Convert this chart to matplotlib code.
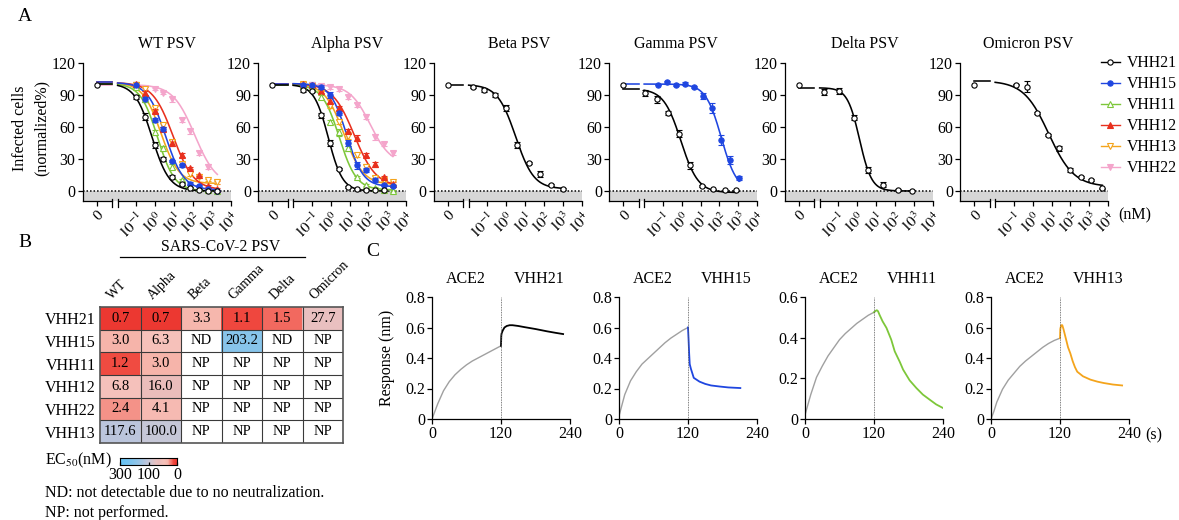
import numpy as np
import matplotlib
matplotlib.use("Agg")
import matplotlib.pyplot as plt
import matplotlib.transforms as mtransforms
from matplotlib.lines import Line2D
from matplotlib.colors import LinearSegmentedColormap, LogNorm

plt.rcParams['font.family'] = 'Liberation Serif'
plt.rcParams['mathtext.fontset'] = 'stix'
plt.rcParams['font.size'] = 11
plt.rcParams['axes.linewidth'] = 0.9
plt.rcParams['xtick.major.width'] = 0.9
plt.rcParams['ytick.major.width'] = 0.9
plt.rcParams['xtick.major.size'] = 3.5
plt.rcParams['ytick.major.size'] = 3.5
plt.rcParams['xtick.major.pad'] = 1.5
plt.rcParams['ytick.major.pad'] = 1.5

# ---------------- panel A data (concentration nM, % infected) ----------------
names = ['VHH21', 'VHH15', 'VHH11', 'VHH12', 'VHH13', 'VHH22']

wt_conc = [0.10, 0.30, 0.91, 2.7, 8.2, 25, 74, 222, 667, 2000]
wt_resp = {
    'VHH21': [88, 70, 43, 30, 13, 7, 3, 1, 0, 0],
    'VHH15': [100, 86, 67, 58, 28, 24, 7, 5, 2, 0],
    'VHH11': [98, 86, 55, 40, 23, 10, 5, 3, 1, 0],
    'VHH12': [101, 92, 75, 58, 45, 34, 22, 15, 5, 2],
    'VHH13': [100, 96, 78, 62, 46, 25, 16, 13, 10, 8],
    'VHH22': [99, 97, 96, 92, 86, 67, 56, 36, 23, 8],
}
wt_err = {
    'VHH21': [2, 3, 3, 2, 2, 1, 1, 0.5, 0.5, 0.5],
    'VHH15': [2, 2, 2, 2, 1, 1, 1, 1, 1, 0.5],
    'VHH11': [1, 2, 2, 2, 2, 1, 1, 1, 1, 0.5],
    'VHH12': [1, 2, 2, 2, 3, 2, 1, 1, 1, 1],
    'VHH13': [1, 2, 2, 2, 2, 2, 2, 1, 1, 1],
    'VHH22': [1, 1, 1, 1, 2, 2, 2, 2, 2, 1],
}
# fitted curve parameters: top, bottom, log10 EC50, hill slope
wt_fit = {
    'VHH21': (101, 0, -0.17, 0.95),
    'VHH15': (102, 1, 0.55, 0.9),
    'VHH11': (101, 0, 0.12, 0.95),
    'VHH12': (102, 1, 0.95, 0.8),
    'VHH13': (102, 7, 0.3, 0.9),
    'VHH22': (100, 5, 2.1, 0.75),
}

alpha_conc = [0.034, 0.10, 0.30, 0.91, 2.7, 8.2, 25, 74, 222, 667, 2000]
alpha_resp = {
    'VHH21': [95, 94, 71, 45, 21, 4, 1.5, 1, 0.5, 0.5, np.nan],
    'VHH15': [100, 100, 98, 90, 73, 45, 24, 20, 10, 6, 5],
    'VHH11': [99, 97, 88, 65, 55, 40, 13, 6, 3, 1, 0],
    'VHH12': [101, 100, 94, 85, 78, 56, 50, 34, 25, 13, 7],
    'VHH13': [101, 99, 92, 80, 65, 52, 34, 23, 12, 10, 8],
    'VHH22': [np.nan, 100, 99, 98, 96, 88, 81, 70, 51, 44, 36],
}
alpha_err = {
    'VHH21': [2, 1, 2, 3, 1, 1, 0.5, 0.5, 0.5, 0.5, 0],
    'VHH15': [1, 2, 2, 3, 2, 3, 3, 2, 2, 1, 1],
    'VHH11': [1, 1, 2, 2, 3, 2, 1, 1, 1, 1, 1],
    'VHH12': [1, 1, 2, 2, 2, 2, 3, 2, 2, 1, 1],
    'VHH13': [1, 1, 2, 2, 2, 3, 2, 2, 2, 1, 1],
    'VHH22': [0, 1, 2, 2, 2, 2, 2, 2, 3, 2, 2],
}
alpha_fit = {
    'VHH21': (100, 0, -0.13, 1.15),
    'VHH15': (101, 4, 0.85, 1.0),
    'VHH11': (100, 1, 0.45, 0.95),
    'VHH12': (101, 4, 1.25, 0.75),
    'VHH13': (101, 6, 0.7, 0.85),
    'VHH22': (100, 25, 2.1, 0.8),
}

beta_conc = [0.016, 0.063, 0.25, 1.0, 3.9, 15.6, 62.5, 250, 1000]
beta_resp = {'VHH21': [98, 95, 90, 78, 43, 26, 16, 6, 2]}
beta_err = {'VHH21': [1, 2, 2, 3, 3, 1, 3, 1, 1]}
beta_fit = {'VHH21': (100, 2, 0.5, 0.9)}

gamma_conc = {
    'VHH21': [0.0114, 0.046, 0.18, 0.73, 2.9, 11.7, 47, 188, 750],
    'VHH15': [0.057, 0.17, 0.51, 1.54, 4.6, 13.8, 41.5, 124, 373, 1120],
}
gamma_resp = {
    'VHH21': [92, 86, 73, 54, 24, 5, 1.5, 0.5, 0.5],
    'VHH15': [100, 102, 100, 101, 98, 89, 78, 48, 29, 12],
}
gamma_err = {
    'VHH21': [3, 3, 2, 3, 3, 1, 0.5, 0.5, 0.5],
    'VHH15': [0.5, 1.5, 1, 1.5, 1, 3, 5, 5, 4, 2],
}
gamma_fit = {
    'VHH21': (96, -1.5, -0.05, 0.95),
    'VHH15': (100.5, 0, 2.1, 1.05),
}

delta_conc = [0.018, 0.109, 0.66, 3.9, 23.6, 142, 850]
delta_resp = {'VHH21': [93, 94, 69, 20, 6, 1, 0.3]}
delta_err = {'VHH21': [3, 2.5, 2, 3, 2, 0.5, 0.5]}
delta_fit = {'VHH21': (97, 0, 0.12, 1.35)}

omicron_conc = [0.13, 0.49, 1.74, 6.3, 24.5, 91, 347, 1290, 5000]
omicron_resp = {'VHH21': [100, 98, 73, 53, 40, 20, 13, 10, 2.5]}
omicron_err = {'VHH21': [0.5, 5, 1, 1, 2, 2, 1, 1, 0.5]}
omicron_fit = {'VHH21': (103.5, 4, 0.85, 0.65)}

# response without nanobody (plotted at the "0" position)
zero_resp = 100

# ---------------- panel B data ----------------
table_rows = ['VHH21', 'VHH15', 'VHH11', 'VHH12', 'VHH22', 'VHH13']
table_cols = ['WT', 'Alpha', 'Beta', 'Gamma', 'Delta', 'Omicron']
table_text = [
    ['0.7', '0.7', '3.3', '1.1', '1.5', '27.7'],
    ['3.0', '6.3', 'ND', '203.2', 'ND', 'NP'],
    ['1.2', '3.0', 'NP', 'NP', 'NP', 'NP'],
    ['6.8', '16.0', 'NP', 'NP', 'NP', 'NP'],
    ['2.4', '4.1', 'NP', 'NP', 'NP', 'NP'],
    ['117.6', '100.0', 'NP', 'NP', 'NP', 'NP'],
]

# ---------------- panel C data (time s, response nm) ----------------
assoc_t = [0, 5, 10, 20, 30, 40, 50, 60, 70, 80, 90, 100, 110, 120]
c_names = ['VHH21', 'VHH15', 'VHH11', 'VHH13']
c_ylim = [0.8, 0.8, 0.6, 0.8]
assoc_r = {
    'VHH21': [0, 0.05, 0.10, 0.185, 0.245, 0.29, 0.325, 0.355, 0.38, 0.40, 0.42, 0.44, 0.46, 0.48],
    'VHH15': [0.02, 0.09, 0.16, 0.25, 0.31, 0.36, 0.395, 0.43, 0.465, 0.50, 0.53, 0.555, 0.58, 0.60],
    'VHH11': [0.02, 0.07, 0.12, 0.205, 0.26, 0.31, 0.35, 0.39, 0.42, 0.445, 0.47, 0.49, 0.51, 0.525],
    'VHH13': [0, 0.05, 0.11, 0.195, 0.255, 0.30, 0.345, 0.38, 0.41, 0.44, 0.47, 0.495, 0.515, 0.53],
}
dis_t = {
    'VHH21': [120, 120.5, 121, 123, 126, 130, 135, 140, 150, 160, 180, 200, 215, 228],
    'VHH15': [120, 121, 122, 123, 125, 130, 140, 150, 160, 175, 190, 211],
    'VHH11': [120, 123, 125, 127, 130, 135, 141.7, 150, 156, 165, 170.6, 182, 193.8, 205, 216.9, 228, 240],
    'VHH13': [120, 120.5, 122, 124, 126, 130, 134, 138, 142, 146, 150, 160, 173, 185, 196, 212, 228],
}
dis_r = {
    'VHH21': [0.48, 0.545, 0.56, 0.58, 0.60, 0.61, 0.615, 0.615, 0.61, 0.603, 0.59, 0.575, 0.565, 0.557],
    'VHH15': [0.60, 0.52, 0.43, 0.36, 0.33, 0.27, 0.245, 0.23, 0.22, 0.213, 0.207, 0.203],
    'VHH11': [0.525, 0.532, 0.535, 0.53, 0.51, 0.48, 0.448, 0.39, 0.333, 0.28, 0.243, 0.19, 0.152, 0.12, 0.095, 0.072, 0.054],
    'VHH13': [0.53, 0.59, 0.615, 0.615, 0.59, 0.53, 0.47, 0.43, 0.38, 0.34, 0.31, 0.28, 0.258, 0.245, 0.236, 0.226, 0.22],
}

colors = {'VHH21': 'black', 'VHH15': '#1f46e0', 'VHH11': '#7dc73a',
          'VHH12': '#e8301e', 'VHH13': '#f4a41c', 'VHH22': '#f4a5cb'}
markers = {'VHH21': ('o', True), 'VHH15': ('o', False), 'VHH11': ('^', True),
           'VHH12': ('^', False), 'VHH13': ('v', True), 'VHH22': ('v', False)}

W, H = 1179, 520
fig = plt.figure(figsize=(W / 100, H / 100), dpi=100)


def px_axes(l, t, r, b):
    return fig.add_axes([l / W, 1 - b / H, (r - l) / W, (b - t) / H])


def hill(x, top, bottom, logec, slope):
    return bottom + (top - bottom) / (1 + 10 ** (slope * (x - logec)))


XL, X0, XB1, XB2, XR = -3.87, -3.1, -2.3, -2.0, 4.0
YMIN = -9.4
draw_order = ['VHH22', 'VHH13', 'VHH12', 'VHH11', 'VHH15', 'VHH21']


def dose_panel(ax, title, title_x, conc, resp, err, fit):
    ax.axhspan(YMIN, 0, color='#d6d6d6', lw=0, zorder=0)
    ax.axhline(0, color='k', ls=(0, (1, 1.3)), lw=1.1, zorder=1)
    for name in draw_order:
        if name not in resp:
            continue
        c = colors[name]
        m, is_open = markers[name]
        lx = np.log10(np.array(conc[name], dtype=float))
        y = np.array(resp[name], dtype=float)
        top, bot, lec, h = fit[name]
        xs = np.linspace(XB2, lx[np.isfinite(y)].max(), 200)
        ax.plot(xs, hill(xs, top, bot, lec, h), color=c, lw=1.15, zorder=2)
        ax.plot([X0, XB1], [top, top], color=c, lw=1.15, zorder=2)
        ax.errorbar(lx, y, yerr=err[name], fmt=m, ms=3.8, mfc='white' if is_open else c,
                    mec=c, mew=0.8, ecolor=c, elinewidth=0.9, capsize=2.3, capthick=0.9,
                    zorder=3)
        if name == 'VHH21':
            ax.plot(X0, zero_resp, marker='o', ms=3.8, mfc='white', mec=c, mew=0.8, zorder=4)
    ax.set_xlim(XL, XR)
    ax.set_ylim(YMIN, 120)
    ax.spines['top'].set_visible(False)
    ax.spines['right'].set_visible(False)
    ax.spines['bottom'].set_bounds(XB2, XR)
    ax.plot([XL, XB1], [YMIN, YMIN], color='k', lw=0.9, clip_on=False)
    for xb in (XB1, XB2):
        ax.plot([xb, xb], [YMIN + 2, YMIN - 5.5], color='k', lw=0.9, clip_on=False)
    ax.set_yticks([0, 30, 60, 90, 120])
    ax.set_xticks([X0, -1, 0, 1, 2, 3, 4])
    ax.set_xticklabels(['0'] + [r'$10^{%d}$' % k for k in range(-1, 5)],
                       rotation=45, ha='right', va='top', rotation_mode='anchor', fontsize=11)
    ax.tick_params(axis='x', pad=2)
    ax.tick_params(axis='y', labelsize=11.5)
    ax.set_title(title, fontsize=11.5, pad=11, x=title_x)


panels = [
    ('WT PSV', 0.57, {n: wt_conc for n in names}, wt_resp, wt_err, wt_fit),
    ('Alpha PSV', 0.6, {n: alpha_conc for n in names}, alpha_resp, alpha_err, alpha_fit),
    ('Beta PSV', 0.58, {'VHH21': beta_conc}, beta_resp, beta_err, beta_fit),
    ('Gamma PSV', 0.45, gamma_conc, gamma_resp, gamma_err, gamma_fit),
    ('Delta PSV', 0.54, {'VHH21': delta_conc}, delta_resp, delta_err, delta_fit),
    ('Omicron PSV', 0.46, {'VHH21': omicron_conc}, omicron_resp, omicron_err, omicron_fit),
]
for i, (title, tx, conc, resp, err, fit) in enumerate(panels):
    left = 82.5 + 175.5 * i
    ax = px_axes(left, 63.3, left + 148, 201)
    dose_panel(ax, title, tx, conc, resp, err, fit)
    if i == 0:
        ax.set_ylabel('Infected cells\n(normalized%)', fontsize=11.5, linespacing=1.5)
        ax.yaxis.set_label_coords(-0.22, 0.53)

handles = []
for n in names:
    m, is_open = markers[n]
    handles.append(Line2D([], [], color=colors[n], marker=m, ms=3.8, mew=0.8,
                          mfc='white' if is_open else colors[n], lw=1.0))
fig.legend(handles, names, loc='upper left', bbox_to_anchor=(1101 / W, 1 - 55 / H),
           frameon=False, fontsize=11.3, handlelength=1.2, handletextpad=0.45,
           labelspacing=0.32, borderaxespad=0, borderpad=0)
fig.text(1135 / W, 1 - 215 / H, '(nM)', ha='center', va='center', fontsize=11.5)

# ---------------- panel B ----------------
nodes = [(0.5, (235, 45, 40)), (1.2, (240, 75, 65)), (1.5, (243, 108, 98)),
         (2.4, (245, 148, 138)), (3.0, (247, 182, 172)), (6.5, (246, 194, 187)),
         (16, (234, 189, 187)), (28, (233, 193, 193)), (100, (200, 200, 215)),
         (118, (188, 198, 220)), (300, (100, 195, 245))]
lo, hi = np.log10(0.5), np.log10(300)
cmap = LinearSegmentedColormap.from_list(
    'ec50', [((np.log10(v) - lo) / (hi - lo), tuple(ch / 255 for ch in rgb)) for v, rgb in nodes])
cmap.set_bad('white')
norm = LogNorm(vmin=0.5, vmax=300)

vals = np.array([[float(s) if s not in ('ND', 'NP') else np.nan for s in row] for row in table_text])
ax_t = px_axes(100, 307, 343, 443)
ax_t.imshow(np.ma.masked_invalid(vals), cmap=cmap, norm=norm, aspect='auto',
            extent=(-0.5, 5.5, 5.5, -0.5), interpolation='nearest')
for i, row in enumerate(table_text):
    for j, s in enumerate(row):
        ax_t.text(j, i, s, ha='center', va='center', fontsize=10.5)
for k in range(1, 6):
    ax_t.axhline(k - 0.5, color='#3a3a3a', lw=0.8)
    ax_t.axvline(k - 0.5, color='#3a3a3a', lw=0.8)
for sp in ax_t.spines.values():
    sp.set_color('#555555')
    sp.set_linewidth(1.2)
ax_t.set_xticks([])
ax_t.set_yticks(range(6))
ax_t.set_yticklabels(table_rows, fontsize=11.5)
ax_t.tick_params(axis='y', length=0, pad=3)
for j, col in enumerate(table_cols):
    ax_t.text(j - 0.2, -0.8, col, rotation=45, ha='left', va='baseline',
              rotation_mode='anchor', fontsize=10)

fig.text(221 / W, 1 - 247 / H, 'SARS-CoV-2 PSV', ha='center', va='center', fontsize=11.3)
fig.add_artist(Line2D([120 / W, 305 / W], [1 - 256.7 / H] * 2, color='k', lw=0.9))

ax_cb = px_axes(120, 457.5, 177, 465)
grad = np.concatenate([np.linspace(300, 100, 128), np.geomspace(100, 0.5, 128)])
ax_cb.imshow(grad[None, :], cmap=cmap, norm=norm, aspect='auto', extent=(0, 1, 0, 1))
ax_cb.set_yticks([])
ax_cb.set_xticks([0, 0.5, 1])
ax_cb.set_xticklabels(['300', '100', '0'], fontsize=11.5)
ax_cb.tick_params(axis='x', direction='in', length=2, pad=1.5)
for sp in ax_cb.spines.values():
    sp.set_linewidth(0.8)

fig.text(45 / W, 1 - 460 / H, 'EC$_{50}$(nM)', va='center', fontsize=11.5)
fig.text(45 / W, 1 - 493 / H, 'ND: not detectable due to no neutralization.', va='center', fontsize=11.5)
fig.text(45 / W, 1 - 513 / H, 'NP: not performed.', va='center', fontsize=11.5)

# ---------------- panel C ----------------
c_lefts = [432, 619, 805, 991]
for i, n in enumerate(c_names):
    ax = px_axes(c_lefts[i], 297, c_lefts[i] + 138, 419)
    ax.plot(assoc_t, assoc_r[n], color='#a0a0a0', lw=1.0)
    ax.plot(dis_t[n], dis_r[n], color=colors[n], lw=1.3)
    ax.axvline(120, color='#555555', ls=(0, (1, 1)), lw=0.6)
    ax.set_xlim(0, 240)
    ax.set_ylim(0, c_ylim[i])
    ax.set_xticks([0, 120, 240])
    yt = np.arange(0, c_ylim[i] + 0.01, 0.2)
    ax.set_yticks(yt)
    ax.set_yticklabels(['0'] + ['%.1f' % v for v in yt[1:]])
    ax.tick_params(labelsize=11.5)
    ax.spines['top'].set_visible(False)
    ax.spines['right'].set_visible(False)
    tr = mtransforms.blended_transform_factory(ax.transData, ax.transAxes)
    ax.text(58, 1.15, 'ACE2', transform=tr, ha='center', va='center', fontsize=11.5)
    ax.text(186, 1.15, n, transform=tr, ha='center', va='center', fontsize=11.5)
    if i == 0:
        ax.set_ylabel('Response (nm)', fontsize=11.5)
        ax.yaxis.set_label_coords(-0.27, 0.5)
fig.text(1154 / W, 1 - 435 / H, '(s)', ha='center', va='center', fontsize=11.5)

fig.text(25 / W, 1 - 16.5 / H, 'A', ha='center', va='center', fontsize=14)
fig.text(25 / W, 1 - 242.5 / H, 'B', ha='center', va='center', fontsize=14)
fig.text(372.5 / W, 1 - 251.5 / H, 'C', ha='center', va='center', fontsize=14)

fig.savefig('out.png', dpi=100)
